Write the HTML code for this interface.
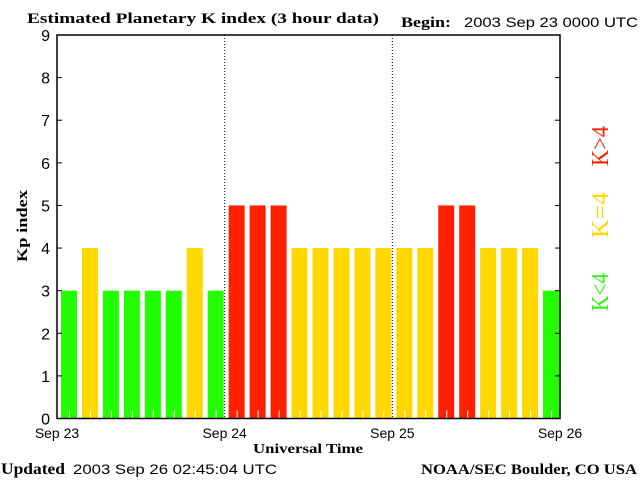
<!DOCTYPE html>
<html><head><style>
body{margin:0;background:#fff;}
svg text{font-family:"Liberation Serif",serif;}
</style></head><body>
<svg width="640" height="480" xmlns="http://www.w3.org/2000/svg">
<text x="27" y="23" font-size="15" font-weight="bold" textLength="352" lengthAdjust="spacingAndGlyphs">Estimated Planetary K index (3 hour data)</text>
<text x="401" y="27" font-size="15" font-weight="bold" textLength="50" lengthAdjust="spacingAndGlyphs">Begin:</text>
<text x="464" y="27" font-size="14" textLength="174" lengthAdjust="spacingAndGlyphs" style="font-family:'Liberation Sans',sans-serif">2003 Sep 23 0000 UTC</text>
<g id="bars"></g>
<g id="axes"></g>
<text transform="translate(27,226) rotate(-90)" text-anchor="middle" font-size="15" font-weight="bold" textLength="72" lengthAdjust="spacingAndGlyphs">Kp index</text>
<text x="253" y="453" font-size="14" font-weight="bold" textLength="110" lengthAdjust="spacingAndGlyphs">Universal Time</text>
<text x="1" y="474" font-size="16" font-weight="bold" textLength="64" lengthAdjust="spacingAndGlyphs">Updated</text>
<text x="73" y="474" font-size="14" textLength="204" lengthAdjust="spacingAndGlyphs" style="font-family:'Liberation Sans',sans-serif">2003 Sep 26 02:45:04 UTC</text>
<text x="421" y="474" font-size="15" font-weight="bold" textLength="216" lengthAdjust="spacingAndGlyphs">NOAA/SEC Boulder, CO USA</text>
<text transform="translate(608,311) rotate(-90)" font-size="24" fill="#22ff00" textLength="38" lengthAdjust="spacingAndGlyphs">K&lt;4</text>
<text transform="translate(608,238) rotate(-90)" font-size="24" fill="#ffd800" textLength="46" lengthAdjust="spacingAndGlyphs">K=4</text>
<text transform="translate(608,166) rotate(-90)" font-size="24" fill="#ff2000" textLength="40" lengthAdjust="spacingAndGlyphs">K&gt;4</text>
</svg>
<script>
const kpValues=[3,4,3,3,3,3,4,3,5,5,5,4,4,4,4,4,4,4,5,5,4,4,4,3];
const yTicks=[0,1,2,3,4,5,6,7,8,9];
const dayLabels=["Sep 23","Sep 24","Sep 25","Sep 26"];
const NS="http://www.w3.org/2000/svg";
const X0=57,X1=560,Y0=418.5,Y1=35;
const slot=(X1-X0)/kpValues.length;
function xs(i){return X0+i*slot;}
function ys(v){return Y0-(v/9)*(Y0-Y1);}
function mk(t,a,p){const e=document.createElementNS(NS,t);for(const k in a)e.setAttribute(k,a[k]);p.appendChild(e);return e;}
const bars=document.getElementById('bars'),axes=document.getElementById('axes');
kpValues.forEach((v,i)=>{
 const c=v<4?'#22ff00':(v==4?'#ffd800':'#ff2000');
 const r=mk('rect',{x:xs(i)+4,y:ys(v),width:16,height:Y0-ys(v),fill:c},bars);
 
 
 mk('line',{x1:xs(i)+12.5,x2:xs(i)+12.5,y1:Y0-8,y2:Y0,stroke:'#fff','stroke-width':1},bars);
});
for(let d=1;d<3;d++){
 const x=X0+d*(X1-X0)/3;
 const l=mk('line',{x1:x,x2:x,y1:Y1,y2:Y0,stroke:'#000','stroke-dasharray':'1,2','stroke-width':1},axes);
 
 
}
mk('rect',{x:X0,y:Y1,width:X1-X0,height:Y0-Y1,fill:'none',stroke:'#000','stroke-width':1.5},axes);
yTicks.forEach(v=>{
 const y=ys(v);
 mk('line',{x1:X0,x2:X0+5,y1:y,y2:y,stroke:'#000'},axes);
 mk('line',{x1:X1-5,x2:X1,y1:y,y2:y,stroke:'#000'},axes);
 const t=mk('text',{x:50,y:y+6,'text-anchor':'end','font-size':16,style:"font-family:'Liberation Sans',sans-serif"},axes);
 t.textContent=v;
 
 
});
dayLabels.forEach((d,i)=>{
 const t=mk('text',{x:X0+i*(X1-X0)/3,y:438,'text-anchor':'middle','font-size':14,style:"font-family:'Liberation Sans',sans-serif"},axes);
 t.textContent=d;
 
 
});
</script>
</body></html>
